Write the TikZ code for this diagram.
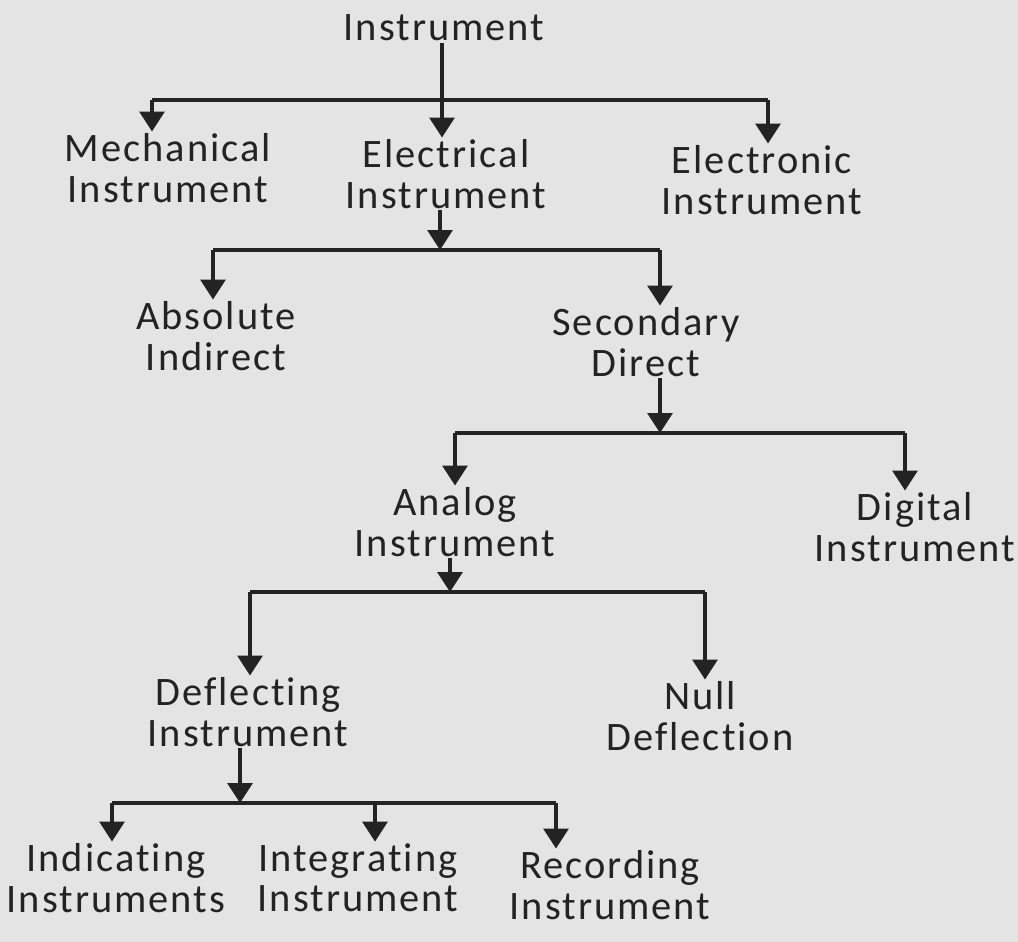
\documentclass[tikz,border=0pt]{standalone}
\usepackage{fontspec}
\setmainfont{Carlito}[LetterSpace=5, Ligatures=NoCommon]
\usetikzlibrary{arrows.meta}
\usepackage{xcolor}
\definecolor{ink}{HTML}{232323}
\definecolor{paper}{HTML}{E4E4E4}

\begin{document}
\begin{tikzpicture}[x=0.02cm, y=-0.02cm,
      item/.style={align=center, text=ink, font=\fontsize{23}{23}\selectfont, inner sep=1pt},
      link/.style={draw=ink, line width=1.9pt},
      down/.style={link, -{Triangle[width=0.5cm, length=0.4cm]}}
    ]
      \fill[paper] (0,0) rectangle (1018,942);
      \useasboundingbox (0,0) rectangle (1018,942);

      \node[item] (inst) at (444,28) {Instrument};
      \node[item] (mech) at (168,168) {Mechanical\\Instrument};
      \node[item] (elec) at (446,174) {Electrical\\Instrument};
      \node[item] (eltr) at (762,180) {Electronic\\Instrument};
      \node[item] (absi) at (216,336) {Absolute\\Indirect};
      \node[item] (secd) at (646,342) {Secondary\\Direct};
      \node[item] (anlg) at (455,522) {Analog\\Instrument};
      \node[item] (digi) at (915,527) {Digital\\Instrument};
      \node[item] (defl) at (248,712) {Deflecting\\Instrument};
      \node[item] (null) at (700,716) {Null\\Deflection};
      \node[item] (indi) at (116,878) {Indicating\\Instruments};
      \node[item] (intg) at (358,878) {Integrating\\Instrument};
      \node[item] (recd) at (610,885) {Recording\\Instrument};

      % branch bars
      \coordinate (b1l) at (152,100); \coordinate (m1) at (442,100); \coordinate (b1r) at (768,100);
      \coordinate (b2l) at (213,250); \coordinate (m2) at (440,250); \coordinate (b2r) at (660,250);
      \coordinate (b3l) at (455,433); \coordinate (m3) at (660,433); \coordinate (b3r) at (905,433);
      \coordinate (b4l) at (250,592); \coordinate (m4) at (450,592); \coordinate (b4r) at (705,592);
      \coordinate (b5l) at (112,803); \coordinate (m5) at (240,803); \coordinate (b5c) at (375,803);
      \coordinate (b5r) at (556,803);

      \draw[link] (b1l) -- (b1r);
      \draw[link] (b2l) -- (b2r);
      \draw[link] (b3l) -- (b3r);
      \draw[link] (b4l) -- (b4r);
      \draw[link] (b5l) -- (b5r);

      \draw[down] (inst.south -| m1) -- (m1 |- elec.north);
      \draw[down] (b1l) -- (b1l |- mech.north);
      \draw[down] (b1r) -- (b1r |- eltr.north);

      \draw[down] (elec.south -| m2) -- (m2);
      \draw[down] (b2l) -- (b2l |- absi.north);
      \draw[down] (b2r) -- (b2r |- secd.north);

      \draw[down] (secd.south -| m3) -- (m3);
      \draw[down] (b3l) -- (b3l |- anlg.north);
      \draw[down] (b3r) -- (b3r |- digi.north);

      \draw[down] (anlg.south -| m4) -- (m4);
      \draw[down] (b4l) -- (b4l |- defl.north);
      \draw[down] (b4r) -- (b4r |- null.north);

      \draw[down] (defl.south -| m5) -- (m5);
      \draw[down] (b5l) -- (b5l |- indi.north);
      \draw[down] (b5c) -- (b5c |- intg.north);
      \draw[down] (b5r) -- (b5r |- recd.north);
    \end{tikzpicture}
\end{document}
